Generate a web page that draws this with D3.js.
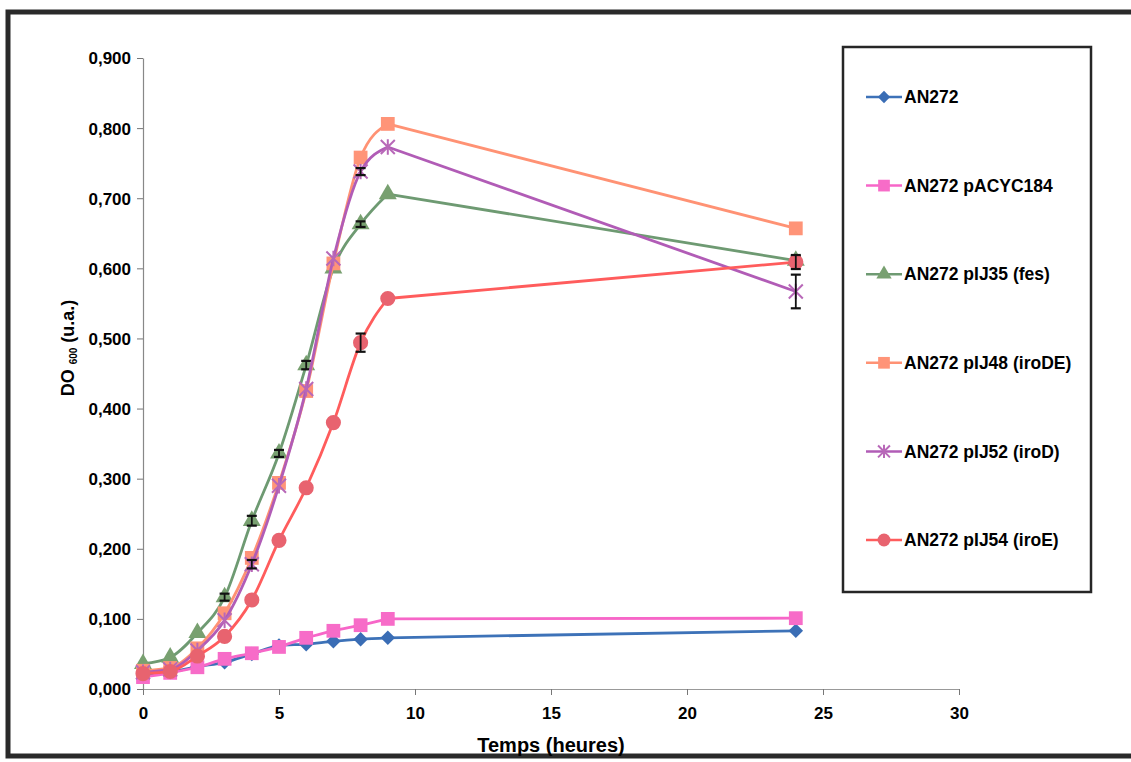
<!DOCTYPE html>
<html>
<head>
<meta charset="utf-8">
<script src="https://cdnjs.cloudflare.com/ajax/libs/d3/7.8.5/d3.min.js"></script>
<style>
  body { margin: 0; background: #fff; }
  text { font-family: "Liberation Sans", Arial, sans-serif; font-weight: bold; fill: #000; }
</style>
</head>
<body>
<div id="chart"></div>
<script>
// data (DO 600 vs hours)
var hours = [0, 1, 2, 3, 4, 5, 6, 7, 8, 9, 24];
var an272   = [0.020, 0.024, 0.032, 0.038, 0.050, 0.062, 0.064, 0.068, 0.071, 0.073, 0.083];
var pacyc   = [0.017, 0.023, 0.031, 0.043, 0.051, 0.060, 0.073, 0.083, 0.091, 0.100, 0.101];
var pij35   = [0.036, 0.045, 0.080, 0.131, 0.240, 0.336, 0.462, 0.600, 0.663, 0.706, 0.611];
var pij48   = [0.026, 0.030, 0.058, 0.108, 0.187, 0.294, 0.425, 0.607, 0.758, 0.806, 0.657];
var pij52   = [0.024, 0.028, 0.055, 0.098, 0.178, 0.290, 0.428, 0.614, 0.738, 0.773, 0.567];
var pij54   = [0.022, 0.025, 0.047, 0.075, 0.127, 0.212, 0.287, 0.380, 0.494, 0.557, 0.609];

// error bars (only where visible)
var err35 = [0, 0, 0, 0.005, 0.007, 0.005, 0.006, 0, 0.004, 0, 0.006];
var err52 = [0, 0, 0, 0, 0.006, 0, 0, 0, 0.005, 0, 0.024];
var err54 = [0, 0, 0, 0, 0, 0, 0, 0, 0.013, 0, 0.010];
var errNone = [0, 0, 0, 0, 0, 0, 0, 0, 0, 0, 0];

var seriesNames = ["AN272", "AN272 pACYC184", "AN272 pIJ35 (fes)", "AN272 pIJ48 (iroDE)", "AN272 pIJ52 (iroD)", "AN272 pIJ54 (iroE)"];
var yTicks = [0, 0.1, 0.2, 0.3, 0.4, 0.5, 0.6, 0.7, 0.8, 0.9];
var xTicks = [0, 5, 10, 15, 20, 25, 30];

var series = [
  {name: seriesNames[0], values: an272, err: errNone, line: "#3d72b8", fill: "#3a6db5", marker: "diamond"},
  {name: seriesNames[1], values: pacyc, err: errNone, line: "#f766c8", fill: "#f76cc8", marker: "square"},
  {name: seriesNames[2], values: pij35, err: err35, line: "#6e9a72", fill: "#78a070", marker: "triangle"},
  {name: seriesNames[3], values: pij48, err: errNone, line: "#ff9274", fill: "#ff9478", marker: "square"},
  {name: seriesNames[4], values: pij52, err: err52, line: "#b15cb6", fill: "#b868b8", marker: "star"},
  {name: seriesNames[5], values: pij54, err: err54, line: "#ff5c5c", fill: "#e8636f", marker: "circle"}
];

var width = 1131, height = 762;

var svg = d3.select("#chart")
  .append("svg")
  .attr("width", width)
  .attr("height", height);

svg.append("rect").attr("width", width).attr("height", height).attr("fill", "#fff");

// outer frame of the scanned figure
svg.append("rect")
  .attr("x", 8).attr("y", 12)
  .attr("width", 1150).attr("height", 744)
  .attr("fill", "none")
  .attr("stroke", "#2a2a2a")
  .attr("stroke-width", 5);

var x = d3.scaleLinear().domain([0, 30]).range([143, 959]);
var y = d3.scaleLinear().domain([0, 0.9]).range([689, 58]);

var fmt = function(d){ return d3.format(".3f")(d).replace(".", ","); };

// axes
var yAxis = d3.axisLeft(y).tickValues(yTicks).tickFormat(fmt).tickSize(6).tickSizeOuter(0);
var xAxis = d3.axisBottom(x).tickValues(xTicks).tickFormat(d3.format("d")).tickSize(6).tickSizeOuter(0);

var yg = svg.append("g")
  .attr("transform", "translate(" + x(0) + ",0)")
  .call(yAxis);
yg.select(".domain").attr("stroke", "#888").attr("stroke-width", 1.2);
yg.selectAll(".tick line").attr("stroke", "#777");
yg.selectAll(".tick text")
  .attr("x", -12)
  .attr("dy", "0.35em")
  .style("font-size", "17px")
  .style("font-family", "Liberation Sans, Arial, sans-serif")
  .style("font-weight", "bold")
  .attr("fill", "#000");

var xg = svg.append("g")
  .attr("transform", "translate(0," + y(0) + ")")
  .call(xAxis);
xg.select(".domain").attr("stroke", "#999").attr("stroke-width", 1.2);
xg.selectAll(".tick line").attr("stroke", "#777");
xg.selectAll(".tick text")
  .attr("y", 24)
  .attr("dy", "0.35em")
  .style("font-size", "17px")
  .style("font-family", "Liberation Sans, Arial, sans-serif")
  .style("font-weight", "bold")
  .attr("fill", "#000");

// axis titles
svg.append("text")
  .attr("x", 551).attr("y", 752)
  .attr("text-anchor", "middle")
  .style("font-size", "20px")
  .text("Temps (heures)");

var yTitle = svg.append("text")
  .attr("transform", "translate(74,348) rotate(-90)")
  .attr("text-anchor", "middle")
  .style("font-size", "18px");
yTitle.append("tspan").text("DO ");
yTitle.append("tspan").style("font-size", "10px").attr("dy", 3).text("600");
yTitle.append("tspan").attr("dy", -3).text(" (u.a.)");

// markers
function drawMarker(g, type, fill, cx, cy, s) {
  s = s || 1;
  if (type === "star") {
    var r = 7 * s;
    g.append("path")
      .attr("d", "M" + (cx - r) + "," + (cy - r) + "L" + (cx + r) + "," + (cy + r) +
                 "M" + (cx - r) + "," + (cy + r) + "L" + (cx + r) + "," + (cy - r) +
                 "M" + cx + "," + (cy - r * 1.1) + "L" + cx + "," + (cy + r * 1.1))
      .attr("stroke", fill)
      .attr("stroke-width", 2)
      .attr("fill", "none");
    return;
  }
  var sym = {diamond: d3.symbolSquare, square: d3.symbolSquare, triangle: d3.symbolTriangle, circle: d3.symbolCircle}[type];
  var size = {diamond: 105, square: 190, triangle: 140, circle: 180}[type] * s * s;
  g.append("path")
    .attr("d", d3.symbol().type(sym).size(size)())
    .attr("transform", "translate(" + cx + "," + cy + ")" + (type === "diamond" ? " rotate(45)" : ""))
    .attr("fill", fill);
}

// smooth growth phase, straight segment out to the 24 h point
var smooth = d3.line()
  .x(function(d){ return x(d[0]); })
  .y(function(d){ return y(d[1]); })
  .curve(d3.curveMonotoneX);
var straight = d3.line()
  .x(function(d){ return x(d[0]); })
  .y(function(d){ return y(d[1]); });

var plot = svg.append("g");

series.forEach(function(s){
  var pts = hours.map(function(h, i){ return [h, s.values[i], s.err[i]]; });
  var n = pts.length;
  var g = plot.append("g");
  g.append("path")
    .datum(pts.slice(0, n - 1))
    .attr("d", smooth)
    .attr("fill", "none")
    .attr("stroke", s.line)
    .attr("stroke-width", 2.8);
  g.append("path")
    .datum(pts.slice(n - 2))
    .attr("d", straight)
    .attr("fill", "none")
    .attr("stroke", s.line)
    .attr("stroke-width", 2.8);
  pts.forEach(function(p){
    drawMarker(g, s.marker, s.fill, x(p[0]), y(p[1]));
  });
  // error bars
  pts.filter(function(p){ return p[2] > 0; }).forEach(function(p){
    var cx = x(p[0]);
    var y1 = y(p[1] + p[2]), y2 = y(p[1] - p[2]);
    g.append("line").attr("x1", cx).attr("x2", cx).attr("y1", y1).attr("y2", y2)
      .attr("stroke", "#111").attr("stroke-width", 1.8);
    [y1, y2].forEach(function(yy){
      g.append("line").attr("x1", cx - 5).attr("x2", cx + 5).attr("y1", yy).attr("y2", yy)
        .attr("stroke", "#111").attr("stroke-width", 2.2);
    });
  });
});

// legend
svg.append("rect")
  .attr("x", 843).attr("y", 47)
  .attr("width", 248).attr("height", 545)
  .attr("fill", "#fff")
  .attr("stroke", "#262626")
  .attr("stroke-width", 2.5);

var legend = svg.append("g");
series.forEach(function(s, i){
  var ly = 97 + i * 88.6;
  legend.append("line")
    .attr("x1", 866).attr("x2", 902).attr("y1", ly).attr("y2", ly)
    .attr("stroke", s.line).attr("stroke-width", 2.5);
  drawMarker(legend, s.marker, s.fill, 884, ly, 0.85);
  legend.append("text")
    .attr("x", 904).attr("y", ly)
    .attr("dy", "0.35em")
    .style("font-size", "17.5px")
    .text(s.name);
});
</script>
</body>
</html>
